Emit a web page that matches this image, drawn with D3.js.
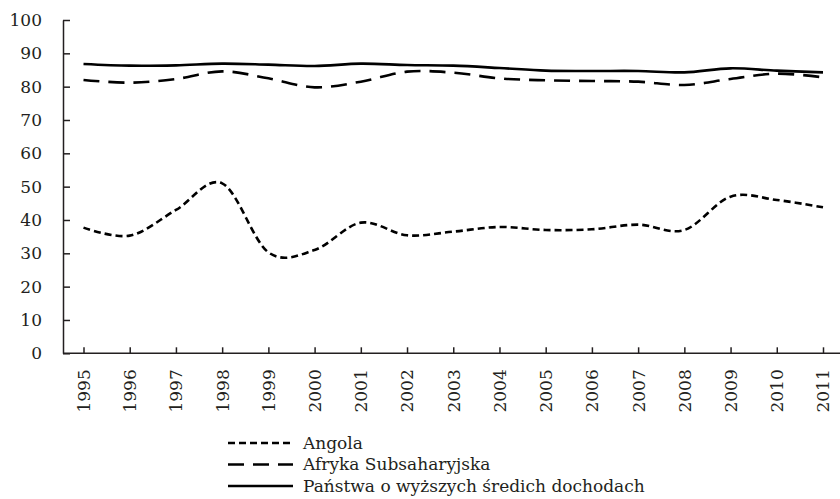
<!DOCTYPE html>
<html>
<head>
<meta charset="utf-8">
<script src="https://cdn.jsdelivr.net/npm/d3@7"></script>
<style>
  body { margin: 0; background: #fff; }
  svg { display: block; }
  text { font-family: "DejaVu Serif", "Liberation Serif", serif; fill: #231f20; }
</style>
</head>
<body>
<div id="chart"></div>
<script>
// values
const years = ['1995', '1996', '1997', '1998', '1999', '2000', '2001', '2002', '2003',
  '2004', '2005', '2006', '2007', '2008', '2009', '2010', '2011'];
const angola = [37.7, 35.3, 43.0, 51.0, 30.3, 31.0, 39.2, 35.4, 36.5, 37.9, 37.0, 37.2, 38.6, 37.0, 47.0, 46.0, 43.8];
const subsahara = [82.0, 81.2, 82.3, 84.6, 82.5, 79.8, 81.5, 84.5, 84.2, 82.5, 81.9, 81.7, 81.5, 80.5, 82.3, 83.9, 82.8];
const upperMiddle = [86.8, 86.3, 86.4, 86.9, 86.6, 86.2, 86.9, 86.5, 86.3, 85.6, 84.8, 84.7, 84.7, 84.3, 85.5, 84.8, 84.3];
const yTicks = [0, 10, 20, 30, 40, 50, 60, 70, 80, 90, 100];

const series = [
  { name: 'Angola', values: angola, dash: '7,4' },
  { name: 'Afryka Subsaharyjska', values: subsahara, dash: '16,9' },
  { name: 'Państwa o wyższych średich dochodach', values: upperMiddle, dash: null }
];

const width = 840, height = 499;
const axisX = 63, axisY = 353.3;
const fontSize = '17px';

const svg = d3.select('#chart').append('svg')
  .attr('width', width)
  .attr('height', height);

const x = d3.scalePoint()
  .domain(years)
  .range([83.5, 823]);

const y = d3.scaleLinear()
  .domain([0, 100])
  .range([axisY, 20]);

// y axis, ticks pointing inward
const yAxis = svg.append('g')
  .attr('transform', `translate(${axisX},0)`)
  .call(d3.axisLeft(y).tickValues(yTicks).tickSize(-7).tickSizeOuter(0).tickPadding(21));
yAxis.selectAll('text').style('font-size', fontSize);
yAxis.selectAll('line, path').attr('stroke', '#231f20').attr('stroke-width', 1.5);

// x axis - domain line runs to the right edge
const xAxis = svg.append('g')
  .attr('transform', `translate(0,${axisY})`)
  .call(d3.axisBottom(x).tickSize(-6).tickSizeOuter(0));
xAxis.select('.domain').remove();
xAxis.selectAll('line').attr('stroke', '#231f20').attr('stroke-width', 1.5);
xAxis.selectAll('text')
  .style('font-size', fontSize)
  .attr('text-anchor', 'end')
  .attr('transform', 'rotate(-90)')
  .attr('x', -16)
  .attr('y', 0)
  .attr('dy', '0.35em');
xAxis.append('line')
  .attr('x1', axisX).attr('x2', width)
  .attr('stroke', '#231f20').attr('stroke-width', 1.5);

const line = d3.line()
  .x((d, i) => x(years[i]))
  .y(d => y(d))
  .curve(d3.curveCatmullRom.alpha(0));

svg.selectAll('.series')
  .data(series)
  .enter()
  .append('path')
  .attr('class', 'series')
  .attr('d', d => line(d.values))
  .attr('fill', 'none')
  .attr('stroke', '#000')
  .attr('stroke-width', 2.6)
  .attr('stroke-dasharray', d => d.dash);

// legend
const legend = svg.append('g').attr('transform', 'translate(228,443)');
const rows = legend.selectAll('g')
  .data(series)
  .enter()
  .append('g')
  .attr('transform', (d, i) => `translate(0,${i * 21.5})`);
rows.append('line')
  .attr('x1', 0).attr('x2', 65)
  .attr('stroke', '#000')
  .attr('stroke-width', 2.6)
  .attr('stroke-dasharray', d => d.dash);
rows.append('text')
  .attr('x', 75)
  .attr('dy', '0.35em')
  .style('font-size', fontSize)
  .text(d => d.name);
</script>
</body>
</html>
